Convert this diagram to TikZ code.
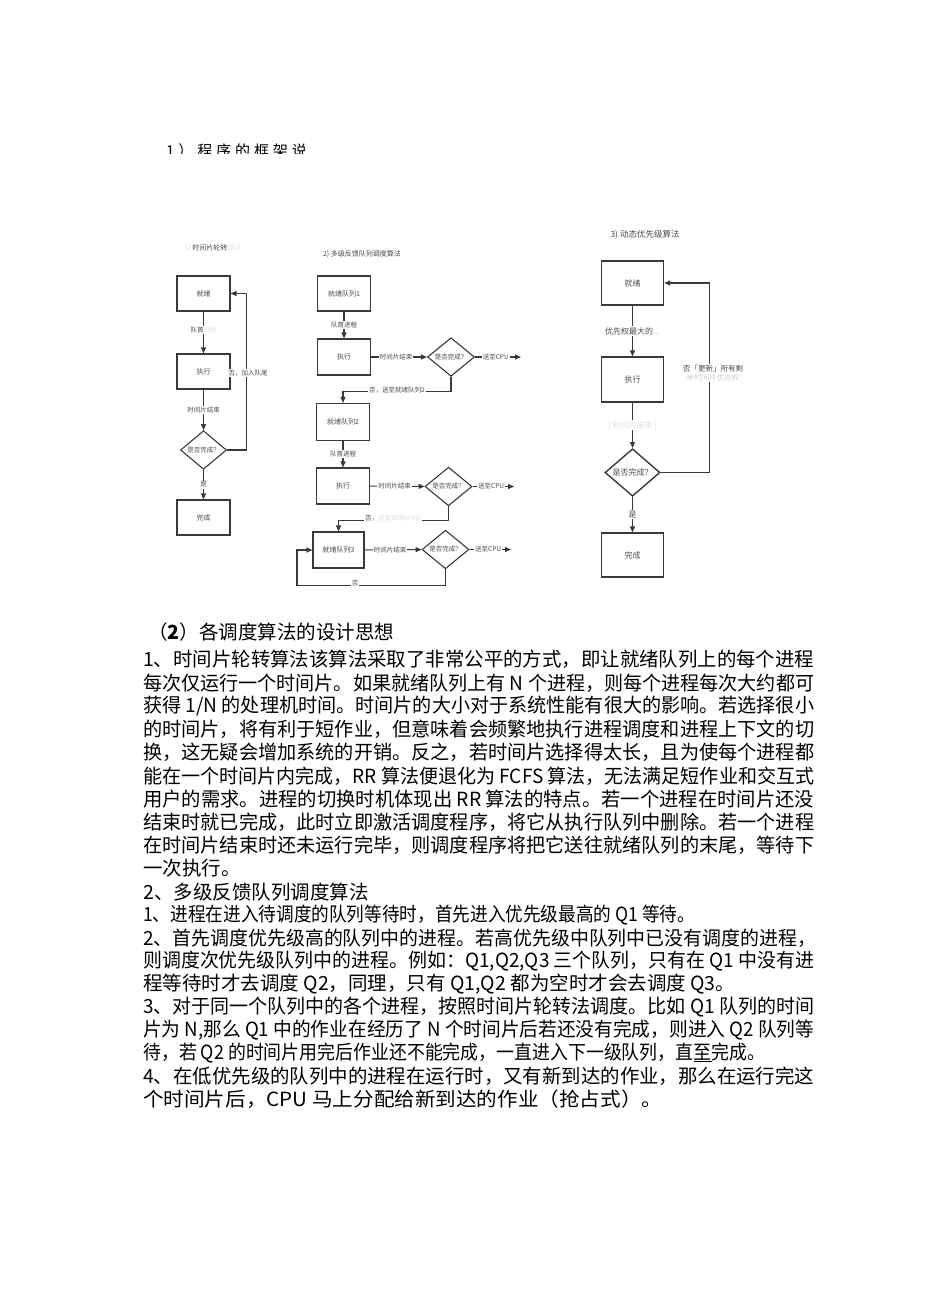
\documentclass[tikz,border=0pt]{standalone}
\usepackage{fontspec}
\newfontfamily\cjk{Noto Sans CJK SC}
\usetikzlibrary{shapes.geometric,arrows.meta}
\definecolor{lc}{HTML}{3A3A3A}
\definecolor{tc}{HTML}{4A4A4A}
\newsavebox\jlinebox
\newcommand\jline[2][671]{\sbox\jlinebox{#2}\pgfmathsetmacro\jfac{#1/(\wd\jlinebox)}\scalebox{\jfac}[1]{\usebox\jlinebox}}
\tikzset{
  box/.style={draw=lc,line width=1.1pt,minimum width=53pt,minimum height=35pt,inner sep=0pt,font=\cjk\fontsize{7}{8}\selectfont,text=tc},
  bigbox/.style={box,minimum width=62pt,minimum height=44pt,line width=1.4pt,font=\cjk\fontsize{8}{9}\selectfont},
  dia/.style={draw=lc,diamond,line width=1.1pt,inner sep=0pt,minimum width=46pt,minimum height=35pt,font=\cjk\fontsize{6.5}{7}\selectfont,text=tc},
  bigdia/.style={dia,minimum width=55pt,minimum height=42pt,line width=1.4pt,font=\cjk\fontsize{8}{9}\selectfont},
  conn/.style={draw=lc,line width=1.1pt},
  arr/.style={conn,-{Triangle[length=6pt,width=5pt]}},
  bigarr/.style={arr,line width=1.4pt},
  lbl/.style={fill=white,inner sep=1pt,font=\cjk\fontsize{6.5}{7}\selectfont,text=tc},
  biglbl/.style={lbl,font=\cjk\fontsize{8}{9}\selectfont},
  ttl/.style={inner sep=0pt,font=\cjk\fontsize{7}{8}\selectfont,text=tc},
  body/.style={anchor=west,inner sep=0pt,font=\cjk\fontsize{19.5}{23}\selectfont,text=black},
}
\begin{document}
\begin{tikzpicture}[x=1pt,y=-1pt]
\useasboundingbox (0,0) rectangle (950,1309);
\fill[white] (0,0) rectangle (950,1309);

% heading
\begin{scope}
\clip (0,0) rectangle (950,153);
\node[anchor=west,inner sep=0pt,font=\cjk\fontsize{15}{15}\selectfont\addfontfeature{LetterSpace=26},text=black] (head) at (166,150.5) {1）程序的框架说};
\end{scope}

% ---------- diagram 1 ----------
\node[ttl] (t1) at (213,248) {\textcolor{gray!25}{1) }时间片轮转\textcolor{gray!20}{算法}};
\node[box] (a1) at (203.5,293.5) {就绪};
\node[box] (a2) at (203.5,371.5) {执行};
\node[dia] (a3) at (203.5,450) {是否完成？};
\node[box] (a4) at (203.5,517.5) {完成};
\draw[arr] (a1) -- node[lbl,pos=0.45] {队首\textcolor{gray!20}{进程}} (a2);
\draw[arr] (a2) -- node[lbl] {时间片结束} (a3);
\draw[arr] (a3) -- node[lbl] {是} (a4);
\draw[arr] (a3.east) -- ++(19,0) |- (a1.east);
\node[lbl] (a5) at (248,373) {否，加入队尾};

% ---------- diagram 2 ----------
\node[ttl] (t2) at (362,254) {2) 多级反馈队列调度算法};
\node[box] (b1) at (344,293.5) {就绪队列1};
\node[box,minimum height=36pt] (b2) at (344,357) {执行};
\node[dia,minimum height=36pt,minimum width=47pt] (b3) at (451,357) {是否完成？};
\coordinate (b3o) at (521,357);
\draw[arr] (b1) -- node[lbl] {队首进程} (b2);
\draw[arr] (b2) -- node[lbl,pos=0.45] {时间片结束} (b3);
\draw[arr] (b3) -- node[lbl,pos=0.45] {送至CPU} (b3o);

\node[box,minimum height=37pt] (b4) at (343,422) {就绪队列2};
\draw[arr] (b3.south) -- ++(0,15) -| (b4.north);
\node[lbl] (b3n) at (397,390) {否，送至就绪队列2};

\node[box,minimum height=36pt] (b5) at (343,486) {执行};
\node[dia,minimum height=35pt,minimum width=47pt] (b6) at (448.5,486.5) {是否完成？};
\coordinate (b6o) at (514,486.5);
\draw[arr] (b4) -- node[lbl] {队首进程} (b5);
\draw[arr] (b5) -- node[lbl,pos=0.45] {时间片结束} (b6);
\draw[arr] (b6) -- node[lbl,pos=0.45] {送至CPU} (b6o);

\node[box,minimum width=51pt,minimum height=36pt] (b7) at (338.5,550) {就绪队列3};
\draw[arr] (b6.south) -- ++(0,14) -| (b7.north);
\node[lbl] (b6n) at (393,518) {否，\textcolor{gray!25}{送至就绪队列3}};

\node[dia,minimum height=35pt,minimum width=47pt] (b8) at (445.5,549.5) {是否完成？};
\coordinate (b8o) at (511,549.5);
\draw[arr] (b7) -- node[lbl,pos=0.45] {时间片结束} (b8);
\draw[arr] (b8) -- node[lbl,pos=0.45] {送至CPU} (b8o);
\draw[arr] (b8.south) -- ++(0,16) -- ++(-148.5,0) |- (b7.west);
\node[lbl] (b8n) at (355,583) {否};

% ---------- diagram 3 ----------
\begin{scope}
\clip (560,230) rectangle (760,300);
\node[ttl,font=\cjk\fontsize{8.5}{9}\selectfont] (t3) at (645,235) {3) 动态优先级算法};
\end{scope}
\node[bigbox] (c1) at (632.5,283) {就绪};
\node[bigbox,minimum height=45pt] (c2) at (632.5,379.5) {执行};
\node[bigdia] (c3) at (632.5,472.5) {是否完成？};
\node[bigbox] (c4) at (632.5,555) {完成};
\draw[bigarr] (c1) -- node[biglbl,pos=0.5] {优先权最大的\textcolor{gray!40}{...}} (c2);
\draw[bigarr] (c2) -- node[biglbl,text=gray!25,pos=0.5] {[\,时间片结束\,]} (c3);
\draw[bigarr] (c3) -- node[biglbl] {是} (c4);
\draw[bigarr] (c3.east) -- ++(49,0) |- (c1.east);
\node[biglbl,align=center,font=\cjk\fontsize{7.5}{9}\selectfont] (c5) at (713,373) {否「更新」所有剩\\\textcolor{gray!40}{余时间片优先权}};

% ---------- body text ----------
\node[body] (p0) at (148,632) {（\textbf{2}）各调度算法的设计思想};
\node[body] (p1) at (143,659) {\jline{1、时间片轮转算法该算法采取了非常公平的方式，即让就绪队列上的每个进程}};
\node[body] (p2) at (143,683) {\jline{每次仅运行一个时间片。如果就绪队列上有 N 个进程，则每个进程每次大约都可}};
\node[body] (p3) at (143,706) {\jline{获得 1/N 的处理机时间。时间片的大小对于系统性能有很大的影响。若选择很小}};
\node[body] (p4) at (143,729) {\jline{的时间片，将有利于短作业，但意味着会频繁地执行进程调度和进程上下文的切}};
\node[body] (p5) at (143,752) {\jline{换，这无疑会增加系统的开销。反之，若时间片选择得太长，且为使每个进程都}};
\node[body] (p6) at (143,776) {\jline{能在一个时间片内完成，RR 算法便退化为 FCFS 算法，无法满足短作业和交互式}};
\node[body] (p7) at (143,799) {\jline{用户的需求。进程的切换时机体现出 RR 算法的特点。若一个进程在时间片还没}};
\node[body] (p8) at (143,822) {\jline{结束时就已完成，此时立即激活调度程序，将它从执行队列中删除。若一个进程}};
\node[body] (p9) at (143,845) {\jline{在时间片结束时还未运行完毕，则调度程序将把它送往就绪队列的末尾，等待下}};
\node[body] (p10) at (143,868) {一次执行。};
\node[body] (p11) at (143,892) {2、多级反馈队列调度算法};
\node[body] (p12) at (143,915) {\jline[552]{1、进程在进入待调度的队列等待时，首先进入优先级最高的 Q1 等待。}};
\node[body] (p13) at (143,938) {\jline[673]{2、首先调度优先级高的队列中的进程。若高优先级中队列中已没有调度的进程，}};
\node[body] (p14) at (143,961) {\jline{则调度次优先级队列中的进程。例如：Q1,Q2,Q3 三个队列，只有在 Q1 中没有进}};
\node[body] (p15) at (143,984) {\jline[592]{程等待时才去调度 Q2，同理，只有 Q1,Q2 都为空时才会去调度 Q3。}};
\node[body] (p16) at (143,1007) {\jline{3、对于同一个队列中的各个进程，按照时间片轮转法调度。比如 Q1 队列的时间}};
\node[body] (p17) at (143,1030) {\jline{片为 N,那么 Q1 中的作业在经历了 N 个时间片后若还没有完成，则进入 Q2 队列等}};
\node[body] (p18) at (143,1053) {\jline[622]{待，若 Q2 的时间片用完后作业还不能完成，一直进入下一级队列，直\underline{至}完成。}};
\node[body] (p19) at (143,1076) {\jline{4、在低优先级的队列中的进程在运行时，又有新到达的作业，那么在运行完这}};
\node[body] (p20) at (143,1099) {\jline[519]{个时间片后，CPU 马上分配给新到达的作业（抢占式）。}};
\end{tikzpicture}
\end{document}
